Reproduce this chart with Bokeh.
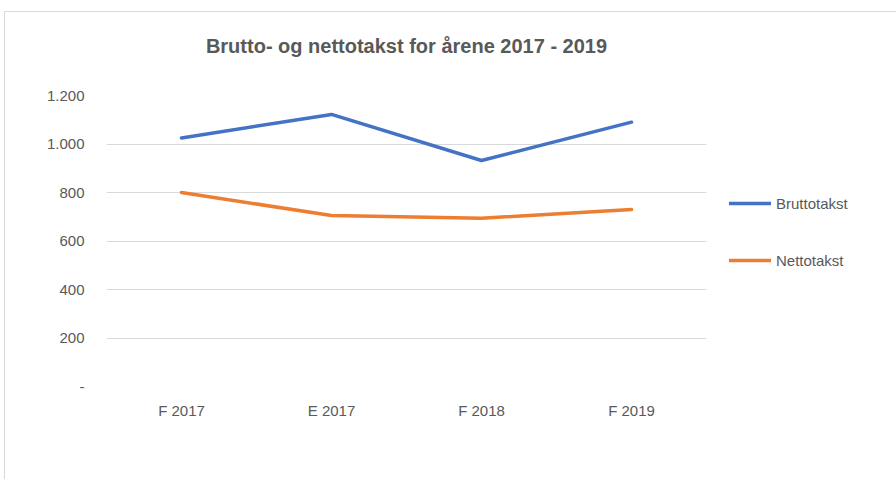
from bokeh.plotting import figure
from bokeh.models import FactorRange, Range1d, FixedTicker, Legend, LegendItem, Title
from bokeh.embed import file_html
from bokeh.resources import INLINE

categories = ["F 2017", "E 2017", "F 2018", "F 2019"]
brutto = [1025, 1122, 932, 1090]
netto = [800, 705, 694, 730]
y_ticks = [0, 200, 400, 600, 800, 1000, 1200]
y_tick_labels = ["-", "200", "400", "600", "800", "1.000", "1.200"]
series_names = ["Bruttotakst", "Nettotakst"]
title_text = "Brutto- og nettotakst for årene 2017 - 2019"

FONT = "Liberation Sans Narrow, Liberation Sans, sans-serif"
GRAY = "#595959"

p = figure(x_range=FactorRange(*categories, range_padding=0),
           y_range=Range1d(0, 1200),
           width=880, height=468,
           frame_width=600, frame_height=291,
           min_border_left=101, min_border_top=83, min_border_right=189, min_border_bottom=94,
           output_backend="svg", toolbar_location=None)
p.title = None

# spacer between title and plot frame
p.add_layout(Title(text=" ", text_font_size="1px", standoff=36), "above")
p.add_layout(Title(text=title_text, align="center", vertical_align="bottom", text_font=FONT,
                   text_font_size="20px", text_font_style="bold", text_color=GRAY,
                   offset=0, standoff=0), "above")

r1 = p.line(categories, brutto, line_color="#4472C4", line_width=3.5, line_cap="round", line_join="round")
r2 = p.line(categories, netto, line_color="#ED7D31", line_width=3.5, line_cap="round", line_join="round")

p.yaxis.ticker = FixedTicker(ticks=y_ticks)
p.yaxis.major_label_overrides = {t: l for t, l in zip(y_ticks, y_tick_labels)}
for ax in (p.xaxis[0], p.yaxis[0]):
    ax.axis_line_color = None
    ax.major_tick_line_color = None
    ax.minor_tick_line_color = None
    ax.major_label_text_font = FONT
    ax.major_label_text_font_size = "15px"
    ax.major_label_text_color = GRAY
p.yaxis.major_label_standoff = 16
p.xaxis.major_label_standoff = 9

p.xgrid.grid_line_color = None
p.ygrid.grid_line_color = "#d9d9d9"
p.ygrid.grid_line_width = 1
p.outline_line_color = None

legend = Legend(items=[LegendItem(label=series_names[0], renderers=[r1]),
                       LegendItem(label=series_names[1], renderers=[r2])],
                location=(23, 116), padding=0, margin=0, spacing=37,
                glyph_width=42, glyph_height=20, label_height=20, label_standoff=5,
                border_line_color=None, background_fill_alpha=0,
                label_text_font=FONT, label_text_font_size="15px", label_text_color=GRAY)
p.add_layout(legend, "right")

p.styles = {"margin-left": "4px", "margin-top": "11px",
            "border-left": "1px solid #d9d9d9", "border-top": "1px solid #d9d9d9"}

open("out.html", "w").write(file_html(p, INLINE))
